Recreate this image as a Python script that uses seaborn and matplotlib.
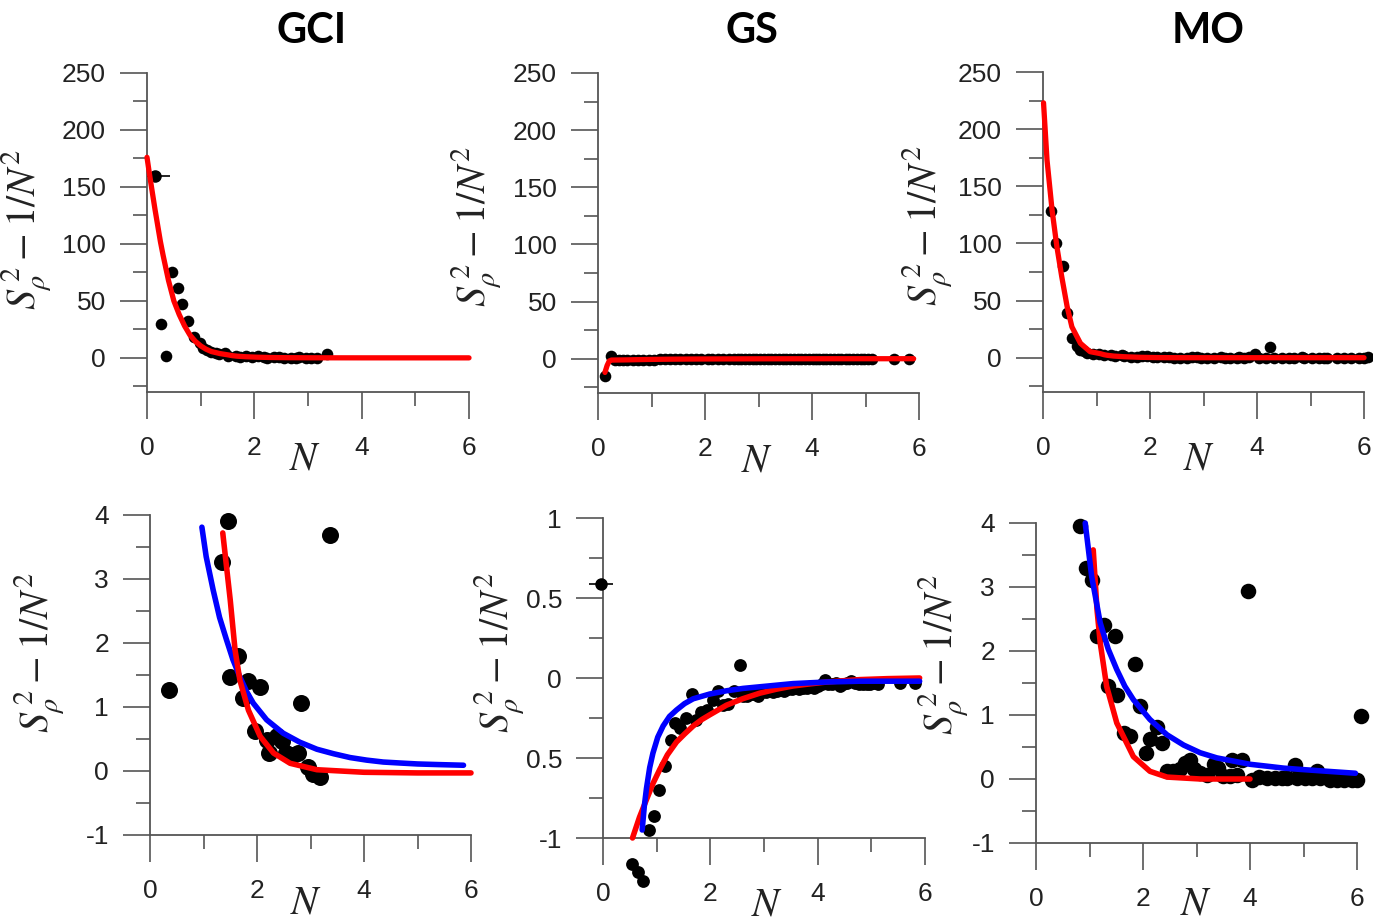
import numpy as np
import pandas as pd
import matplotlib
matplotlib.use("Agg")
import matplotlib.pyplot as plt
import seaborn as sns
from matplotlib.ticker import FixedLocator, FixedFormatter

# ---------------- data ----------------
titles = ["GCI", "GS", "MO"]

# GCI
gci_n_top = [0.26, 0.46, 0.57, 0.66, 0.76, 0.88, 0.98, 1.05, 1.12, 1.20, 1.28]
gci_s_top = [30, 75, 61, 47, 32, 18, 13, 9, 7, 5.5, 4.5]
gci_err_n = [0.15]
gci_err_s = [160]
gci_err_dx = [0.27]
gci_n = [0.36, 1.34, 1.45, 1.50, 1.65, 1.74, 1.84, 1.96, 2.06, 2.18, 2.23,
         2.37, 2.46, 2.55, 2.68, 2.77, 2.83, 2.96, 3.05, 3.17, 3.36]
gci_s = [1.27, 3.26, 3.90, 1.47, 1.79, 1.14, 1.41, 0.63, 1.31, 0.49, 0.28,
         0.54, 0.47, 0.28, 0.25, 0.28, 1.06, 0.07, -0.04, -0.10, 3.69]
gci_red_n = [0, 0.05, 0.10, 0.15, 0.20, 0.25, 0.30, 0.40, 0.50, 0.60, 0.70, 0.80,
             0.90, 1.00, 1.10, 1.20, 1.36, 1.50, 1.59, 1.68, 1.84, 2.06, 2.31,
             2.62, 3.12, 4.0, 5.0, 6.0]
gci_red_s = [176, 160, 145, 130, 116, 102, 90, 68, 50, 38, 28, 20, 14.5, 10.5,
             7.6, 5.5, 3.72, 2.67, 1.89, 1.42, 0.95, 0.54, 0.28, 0.12, 0.02,
             -0.02, -0.03, -0.03]
gci_blue_n = [0.97, 1.05, 1.18, 1.30, 1.43, 1.55, 1.68, 1.80, 1.93, 2.18, 2.49,
              2.80, 3.12, 3.43, 3.74, 4.05, 4.36, 4.67, 5.0, 5.4, 5.86]
gci_blue_s = [3.81, 3.35, 2.83, 2.40, 2.05, 1.74, 1.47, 1.25, 1.06, 0.80, 0.59,
              0.45, 0.34, 0.27, 0.21, 0.17, 0.14, 0.125, 0.11, 0.10, 0.09]

# GS
gs_n_top = [0.13, 0.24, 0.32, 0.40, 0.47]
gs_s_top = [-15, 2, -1, -1.5, -1]
gs_err_n = [-0.04]
gs_err_s = [0.59]
gs_err_dx = [0.22]
gs_n = [0.54, 0.65, 0.75, 0.85, 0.95, 1.04, 1.15, 1.26, 1.35, 1.43, 1.54, 1.65,
        1.73, 1.83, 1.93, 2.05, 2.14, 2.24, 2.33, 2.44, 2.55,
        2.61, 2.68, 2.75, 2.82, 2.89, 2.96, 3.03, 3.10, 3.17, 3.24, 3.31, 3.38,
        3.45, 3.52, 3.59, 3.66, 3.73, 3.80, 3.87, 3.94, 4.01, 4.08, 4.14, 4.20,
        4.27, 4.34, 4.41, 4.48, 4.55, 4.63, 4.70, 4.77, 4.84, 4.91, 4.98, 5.05,
        5.12, 5.53, 5.81]
gs_s = [-1.16, -1.21, -1.27, -0.95, -0.86, -0.70, -0.55, -0.39, -0.28, -0.31,
        -0.25, -0.10, -0.26, -0.21, -0.20, -0.14, -0.08, -0.17, -0.16, -0.08, 0.08,
        -0.11, -0.11, -0.10, -0.10, -0.11, -0.09, -0.09, -0.08, -0.09, -0.08,
        -0.07, -0.08, -0.07, -0.07, -0.06, -0.07, -0.06, -0.06, -0.05, -0.06,
        -0.05, -0.04, -0.01, -0.04, -0.04, -0.03, -0.05, -0.04, -0.03, -0.02,
        -0.03, -0.04, -0.04, -0.04, -0.04, -0.03, -0.04, -0.03, -0.03]
gs_red_n = [0.13, 0.17, 0.21, 0.25, 0.55, 0.68, 0.81, 0.93, 1.06, 1.20, 1.37,
            1.52, 1.68, 1.84, 1.99, 2.3, 2.6, 2.92, 3.23, 3.54, 3.85, 4.17, 4.48,
            4.79, 5.3, 5.9]
gs_red_s = [-12, -6, -2, -1.2, -1.0, -0.87, -0.76, -0.66, -0.57, -0.48, -0.40,
            -0.35, -0.30, -0.26, -0.23, -0.17, -0.13, -0.095, -0.07, -0.05,
            -0.037, -0.025, -0.017, -0.01, -0.004, 0.0]
gs_blue_n = [0.73, 0.77, 0.81, 0.87, 0.93, 1.02, 1.12, 1.24, 1.37, 1.52, 1.68,
             1.99, 2.3, 2.61, 2.92, 3.23, 3.54, 3.85, 4.17, 4.79, 5.4, 5.9]
gs_blue_s = [-0.95, -0.80, -0.69, -0.56, -0.47, -0.37, -0.30, -0.24, -0.20,
             -0.16, -0.13, -0.10, -0.08, -0.065, -0.055, -0.045, -0.035, -0.03,
             -0.025, -0.02, -0.02, -0.02]

# MO
mo_n_top = [0.15, 0.24, 0.37, 0.44, 0.54, 0.63, 0.70, 0.76, 4.24]
mo_s_top = [128, 100, 80, 39, 17, 10, 7, 5.5, 9]
mo_n = [0.82, 0.93, 1.04, 1.14, 1.27, 1.35, 1.47, 1.52, 1.65, 1.76, 1.85, 1.95,
        2.05, 2.13, 2.26, 2.35, 2.45, 2.57, 2.69, 2.79, 2.87, 2.96, 3.07, 3.20,
        3.32, 3.41, 3.49, 3.63, 3.66, 3.75, 3.85, 3.96, 4.04, 4.16, 4.32, 4.47,
        4.60, 4.69, 4.85, 4.88, 5.03, 5.16, 5.25, 5.31, 5.50, 5.62, 5.75, 5.90,
        6.00, 6.08]
mo_s = [3.96, 3.30, 3.11, 2.24, 2.41, 1.45, 2.24, 1.32, 0.72, 0.67, 1.79, 1.14,
        0.41, 0.62, 0.82, 0.56, 0.13, 0.13, 0.15, 0.25, 0.30, 0.15, 0.09, 0.07,
        0.24, 0.17, 0.04, 0.05, 0.30, 0.07, 0.30, 2.93, -0.01, 0.03, 0.01, 0.01,
        0.01, 0.01, 0.22, 0.01, 0.01, 0.01, 0.12, 0.01, -0.01, -0.01, -0.01,
        -0.01, -0.01, 0.98]
mo_red_n = [0.01, 0.075, 0.17, 0.26, 0.35, 0.45, 0.54, 0.70, 0.88, 1.07, 1.14,
            1.20, 1.32, 1.51, 1.82, 2.13, 2.45, 3.07, 4.0, 5.0, 6.0]
mo_red_s = [223, 173, 129, 97, 71, 45, 27, 12.6, 5.3, 3.58, 2.65, 2.13, 1.45,
            0.875, 0.35, 0.12, 0.03, 0.0, 0.0, 0.0, 0.0]
mo_blue_n = [0.92, 1.04, 1.20, 1.35, 1.51, 1.66, 1.82, 2.13, 2.45, 2.76, 3.07,
             3.38, 3.69, 4.0, 4.32, 4.63, 4.94, 5.45, 5.97]
mo_blue_s = [4.0, 3.17, 2.44, 2.03, 1.71, 1.45, 1.24, 0.93, 0.69, 0.53, 0.41,
             0.33, 0.28, 0.23, 0.20, 0.17, 0.15, 0.12, 0.09]

x_ticks = [0, 2, 4, 6]
x_ticklabels = ["0", "2", "4", "6"]
top_yticks = [0, 50, 100, 150, 200, 250]
top_yticklabels = ["0", "50", "100", "150", "200", "250"]
big_yticks = [-1, 0, 1, 2, 3, 4]
big_yticklabels = ["-1", "0", "1", "2", "3", "4"]
gs_yticks = [-1, -0.5, 0, 0.5, 1]
gs_yticklabels = ["-1", "0.5", "0", "0.5", "1"]

# ---------------- style ----------------
sns.set_style("ticks")
plt.rcParams["font.family"] = ["Liberation Sans", "DejaVu Sans"]
plt.rcParams["mathtext.fontset"] = "stix"
plt.rcParams["axes.unicode_minus"] = False

W, H = 1373, 923
fig = plt.figure(figsize=(W / 100, H / 100), dpi=100)
fig.patch.set_facecolor("white")

AX_COL = "#555555"
TXT_COL = "#222222"


def add_ax(l, r, t, b):
    return fig.add_axes([l / W, 1 - b / H, (r - l) / W, (b - t) / H])


def style(ax, ylim, yticks, yticklabels, yminor, ylab_xy, xlab_xy):
    ax.set_xlim(0, 6)
    ax.set_ylim(*ylim)
    for s in ["top", "right"]:
        ax.spines[s].set_visible(False)
    for s in ["left", "bottom"]:
        ax.spines[s].set_color(AX_COL)
        ax.spines[s].set_linewidth(1.3)
    ax.xaxis.set_major_locator(FixedLocator(x_ticks))
    ax.xaxis.set_major_formatter(FixedFormatter(x_ticklabels))
    ax.xaxis.set_minor_locator(FixedLocator([1, 3, 5]))
    ax.yaxis.set_major_locator(FixedLocator(yticks))
    ax.yaxis.set_major_formatter(FixedFormatter(yticklabels))
    ax.yaxis.set_minor_locator(FixedLocator(yminor))
    ax.tick_params(axis="both", which="major", length=19.5, width=1.2,
                   color=AX_COL, direction="out", labelsize=19,
                   labelcolor=TXT_COL)
    ax.tick_params(axis="both", which="minor", length=10, width=1.2,
                   color=AX_COL, direction="out")
    ax.tick_params(axis="y", which="major", pad=10)
    ax.tick_params(axis="x", which="major", pad=12)
    ax.set_ylabel(r"$S_{\rho}^{\,2} - \mathit{1}/N^{2}$", fontsize=29,
                  color=TXT_COL)
    ax.yaxis.set_label_coords(*ylab_xy)
    ax.set_xlabel(r"$N$", fontsize=29, color=TXT_COL)
    ax.xaxis.set_label_coords(*xlab_xy)
    ax.set_facecolor("white")


def scatter(ax, x, y, s):
    sns.scatterplot(x=x, y=y, ax=ax, color="black", s=s, linewidth=0,
                    clip_on=False, zorder=3)


def line(ax, x, y, color, lw):
    sns.lineplot(x=x, y=y, ax=ax, color=color, lw=lw, sort=False,
                 estimator=None, zorder=4, clip_on=False)


def sub(xs, ys, lo, hi):
    xs = np.asarray(xs)
    ys = np.asarray(ys)
    m = (xs >= lo) & (xs <= hi)
    return xs[m], ys[m]


top_minor = [-25, 25, 75, 125, 175, 225]
big_minor = [-0.5, 0.5, 1.5, 2.5, 3.5]
gs_minor = [-0.75, -0.25, 0.25, 0.75]

# ---------------- top row ----------------
ax1 = add_ax(147, 469, 73, 392)
scatter(ax1, gci_n_top + gci_n, gci_s_top + gci_s, 70)
ax1.errorbar(gci_err_n, gci_err_s, xerr=gci_err_dx, fmt="o", color="black",
             ms=8, elinewidth=1.2, zorder=3)
line(ax1, gci_red_n, gci_red_s, "red", 3.8)
style(ax1, (-30, 250), top_yticks, top_yticklabels, top_minor,
      (-0.285, 0.51), (0.49, -0.15))

ax2 = add_ax(598, 919, 73, 393)
scatter(ax2, gs_n_top + gs_n, gs_s_top + gs_s, 70)
line(ax2, gs_red_n, gs_red_s, "red", 3.8)
style(ax2, (-30, 250), top_yticks, top_yticklabels, top_minor,
      (-0.29, 0.52), (0.495, -0.15))

ax3 = add_ax(1043, 1364, 72, 392)
scatter(ax3, mo_n_top + mo_n, mo_s_top + mo_s, 70)
line(ax3, mo_red_n, mo_red_s, "red", 3.8)
style(ax3, (-30, 250), top_yticks, top_yticklabels, top_minor,
      (-0.27, 0.52), (0.486, -0.15))

# ---------------- bottom row ----------------
ax4 = add_ax(150, 471, 515, 835)
scatter(ax4, gci_n, gci_s, 150)
bx, by = sub(gci_blue_n, gci_blue_s, 0, 6)
line(ax4, bx, by, "blue", 4)
rx, ry = sub(gci_red_n, gci_red_s, 1.36, 6)
line(ax4, rx, ry, "red", 4)
style(ax4, (-1, 4), big_yticks, big_yticklabels, big_minor,
      (-0.255, 0.57), (0.486, -0.15))

ax5 = add_ax(603, 925, 518, 838)
scatter(ax5, gs_n, gs_s, 85)
ax5.errorbar(gs_err_n, gs_err_s, xerr=gs_err_dx, fmt="o", color="black",
             ms=8, elinewidth=1.2, zorder=3, clip_on=False)
rx, ry = sub(gs_red_n, gs_red_s, 0.55, 6)
line(ax5, rx, ry, "red", 4)
line(ax5, gs_blue_n, gs_blue_s, "blue", 4)
style(ax5, (-1, 1), gs_yticks, gs_yticklabels, gs_minor,
      (-0.232, 0.58), (0.51, -0.15))

ax6 = add_ax(1036, 1357, 523, 843)
scatter(ax6, mo_n, mo_s, 125)
rx, ry = sub(mo_red_n, mo_red_s, 1.07, 4.0)
line(ax6, rx, ry, "red", 4)
line(ax6, mo_blue_n, mo_blue_s, "blue", 4)
style(ax6, (-1, 4), big_yticks, big_yticklabels, big_minor,
      (-0.20, 0.59), (0.50, -0.13))

# ---------------- titles ----------------
for t, cx in zip(titles, [312, 752, 1208]):
    fig.text(cx / W, 1 - 31 / H, t, ha="center", va="center", fontsize=30,
             fontweight="bold", family=["Lato", "DejaVu Sans"], color="black")

fig.savefig("out.png", dpi=100, facecolor="white")
